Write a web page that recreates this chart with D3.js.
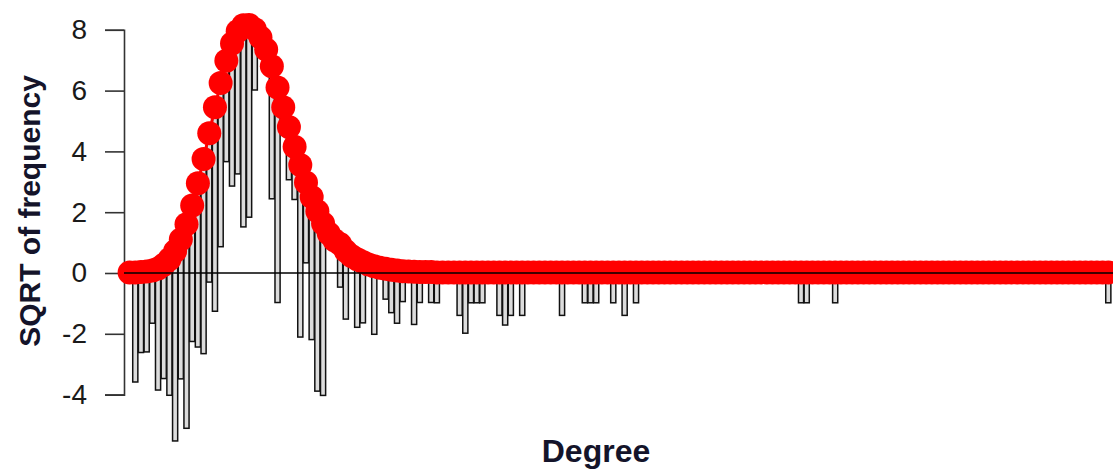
<!DOCTYPE html>
<html>
<head>
<meta charset="utf-8">
<script src="https://cdn.jsdelivr.net/npm/d3@7"></script>
<style>
  html, body { margin: 0; padding: 0; background: #ffffff; }
  svg { display: block; }
</style>
</head>
<body>
<svg id="chart" width="1113" height="471"></svg>
<script>
// ---- data ----
const yTickValues = [-4, -2, 0, 2, 4, 6, 8];
const yTickLabels = ["-4", "-2", "0", "2", "4", "6", "8"];
const yTitle = "SQRT of frequency";
const xTitle = "Degree";

// degree categories 0..172
const degrees = d3.range(0, 173);

// fitted (expected) values on the square-root scale, one per degree
const expectedSqrt = [
  0.02,0.02,0.03,0.05,0.08,0.15,0.27,0.45,0.72,1.10,
  1.60,2.22,2.95,3.75,4.60,5.45,6.25,6.98,7.55,7.95,
  8.15,8.16,8.02,7.75,7.35,6.80,6.10,5.45,4.80,4.15,
  3.55,2.98,2.50,2.03,1.63,1.30,1.08,0.95,0.72,0.56,
  0.45,0.36,0.28,0.22,0.17,0.14,0.11,0.08,0.06,0.05,
  0.04,0.03,0.03,0.03,0.02,0.02,0.02,0.02,0.02,0.02,
  0.02,0.02,0.02,0.02,0.02,0.02,0.02,0.02,0.02,0.02,
  0.02,0.02,0.02,0.02,0.02,0.02,0.02,0.02,0.02,0.02,
  0.02,0.02,0.02,0.02,0.02,0.02,0.02,0.02,0.02,0.02,
  0.02,0.02,0.02,0.02,0.02,0.02,0.02,0.02,0.02,0.02,
  0.02,0.02,0.02,0.02,0.02,0.02,0.02,0.02,0.02,0.02,
  0.02,0.02,0.02,0.02,0.02,0.02,0.02,0.02,0.02,0.02,
  0.02,0.02,0.02,0.02,0.02,0.02,0.02,0.02,0.02,0.02,
  0.02,0.02,0.02,0.02,0.02,0.02,0.02,0.02,0.02,0.02,
  0.02,0.02,0.02,0.02,0.02,0.02,0.02,0.02,0.02,0.02,
  0.02,0.02,0.02,0.02,0.02,0.02,0.02,0.02,0.02,0.02,
  0.02,0.02,0.02,0.02,0.02,0.02,0.02,0.02,0.02,0.02,
  0.02,0.02,0.02
];

// observed frequencies, one per degree
const observedCount = [
  0,13,7,7,3,16,14,20,39,21,
  45,20,29,41,24,45,29,11,22,22,
  44,40,4,0,0,19,50,0,3,3,
  32,7,22,35,32,0,0,2,5,0,
  5,4,0,5,0,1,2,3,1,0,
  3,1,0,1,1,0,0,0,2,4,
  1,1,1,0,0,2,3,2,0,2,
  0,0,0,0,0,0,2,0,0,0,
  1,1,1,0,0,1,0,2,0,1,
  0,0,0,0,0,0,0,0,0,0,
  0,0,0,0,0,0,0,0,0,0,
  0,0,0,0,0,0,0,0,1,1,
  0,0,0,0,1,0,0,0,0,0,
  0,0,0,0,0,0,0,0,0,0,
  0,0,0,0,0,0,0,0,0,0,
  0,0,0,0,0,0,0,0,0,0,
  0,0,0,0,0,0,0,0,0,0,
  0,0,1
];

// ---- drawing ----
const svg = d3.select("#chart");

const x = d3.scaleLinear().domain([0, 172]).range([129.6, 1108.3]);
const y = d3.scaleLinear().domain([-4, 8]).range([394.6, 29.8]);

const rows = degrees.map((d, i) => ({
  deg: d,
  fit: expectedSqrt[i],
  obs: Math.sqrt(observedCount[i]),
  count: observedCount[i]
}));

// y axis
const yAxis = d3.axisLeft(y).tickValues(yTickValues).tickSize(19).tickPadding(18)
  .tickFormat((d, i) => yTickLabels[i]);
const gy = svg.append("g").attr("transform", "translate(124,0)").call(yAxis);
gy.select(".domain").attr("stroke", "#333").attr("stroke-width", 1.6);
gy.selectAll(".tick line").attr("stroke", "#333").attr("stroke-width", 1.6);
gy.selectAll(".tick text")
  .attr("fill", "#1a1a1a")
  .style("font-family", "'Liberation Sans', Arial, sans-serif")
  .style("font-size", "28px");

// hanging bars
const unit = x(1) - x(0);
const bw = unit * 0.9;
svg.append("g")
  .selectAll("rect")
  .data(rows.filter(r => r.count > 0))
  .join("rect")
  .attr("x", r => x(r.deg) - bw / 2)
  .attr("y", r => y(r.fit))
  .attr("width", bw)
  .attr("height", r => y(r.fit - r.obs) - y(r.fit))
  .attr("fill", "#dcdcdc")
  .attr("stroke", "#111")
  .attr("stroke-width", 1.5);

// fitted line + points
const line = d3.line().x(r => x(r.deg)).y(r => y(r.fit));
svg.append("path")
  .datum(rows)
  .attr("d", line)
  .attr("fill", "none")
  .attr("stroke", "#ff0000")
  .attr("stroke-width", 3);

svg.append("g")
  .selectAll("circle")
  .data(rows)
  .join("circle")
  .attr("cx", r => x(r.deg))
  .attr("cy", r => y(r.fit))
  .attr("r", 12)
  .attr("fill", "#ff0000");

// zero reference line
svg.append("line")
  .attr("x1", 124).attr("x2", 1113)
  .attr("y1", y(0)).attr("y2", y(0))
  .attr("stroke", "#000")
  .attr("stroke-width", 1.5);

// titles
svg.append("text")
  .attr("transform", `translate(29,211) rotate(-90)`)
  .attr("text-anchor", "middle")
  .attr("dominant-baseline", "central")
  .attr("fill", "#14142a")
  .style("font-family", "'Liberation Sans', Arial, sans-serif")
  .style("font-weight", "bold")
  .style("font-size", "30px")
  .text(yTitle);

svg.append("text")
  .attr("x", 596)
  .attr("y", 462)
  .attr("text-anchor", "middle")
  .attr("fill", "#14142a")
  .style("font-family", "'Liberation Sans', Arial, sans-serif")
  .style("font-weight", "bold")
  .style("font-size", "32px")
  .text(xTitle);
</script>
</body>
</html>
